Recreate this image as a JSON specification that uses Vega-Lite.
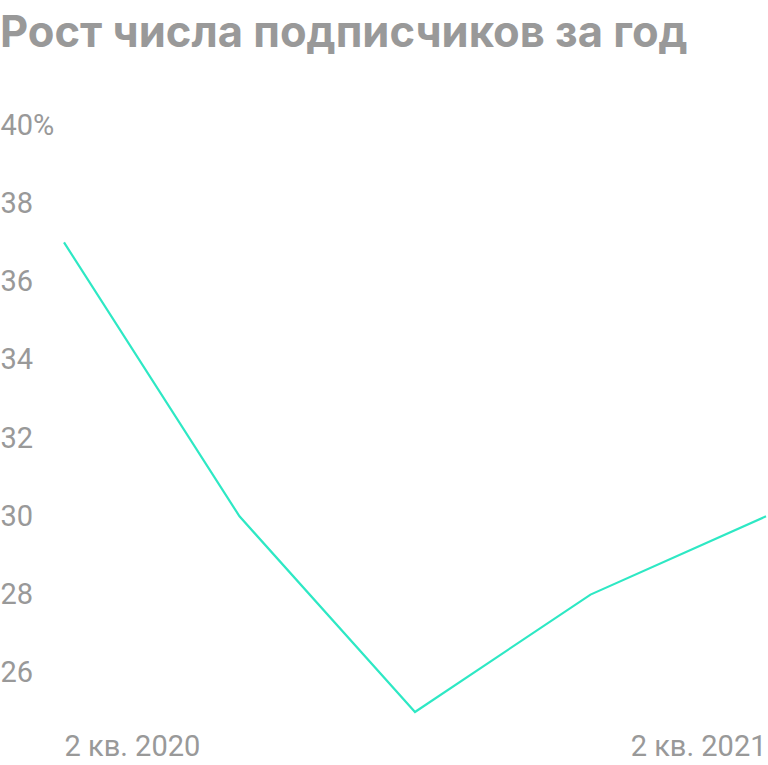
{
  "$schema": "https://vega.github.io/schema/vega-lite/v6.json",
  "autosize": "none",
  "width": 702,
  "height": 587,
  "padding": {"left": 64, "top": 125, "right": 2, "bottom": 53},
  "background": "white",
  "title": {
    "text": "Рост числа подписчиков за год",
    "anchor": "start",
    "frame": "group",
    "dx": -64,
    "offset": 21,
    "baseline": "alphabetic",
    "font": "Inter",
    "fontSize": 43.5,
    "fontWeight": "bold",
    "color": "#999999"
  },
  "data": {
    "values": [
      {"quarter": "2 кв. 2020", "growth": 37},
      {"quarter": "3 кв. 2020", "growth": 30},
      {"quarter": "4 кв. 2020", "growth": 25},
      {"quarter": "1 кв. 2021", "growth": 28},
      {"quarter": "2 кв. 2021", "growth": 30}
    ]
  },
  "mark": {"type": "line", "color": "#2ee8c4", "strokeWidth": 2.2},
  "encoding": {
    "x": {
      "field": "quarter",
      "type": "ordinal",
      "sort": null,
      "title": null,
      "scale": {"type": "point", "padding": 0},
      "axis": {
        "values": ["2 кв. 2020", "2 кв. 2021"],
        "labelAngle": 0,
        "labelFlush": true,
        "labelPadding": 20,
        "ticks": false,
        "domain": false
      }
    },
    "y": {
      "field": "growth",
      "type": "quantitative",
      "title": null,
      "scale": {"domain": [25, 40], "nice": false, "zero": false},
      "axis": {
        "values": [26, 28, 30, 32, 34, 36, 38, 40],
        "labelExpr": "datum.value == 40 ? '40%' : datum.label",
        "labelAlign": "left",
        "labelBaseline": "middle",
        "labelPadding": 64,
        "ticks": false,
        "domain": false,
        "grid": false
      }
    }
  },
  "config": {
    "view": {"stroke": null},
    "axis": {
      "labelFont": "Roboto",
      "labelFontSize": 29,
      "labelColor": "#999999"
    }
  }
}
